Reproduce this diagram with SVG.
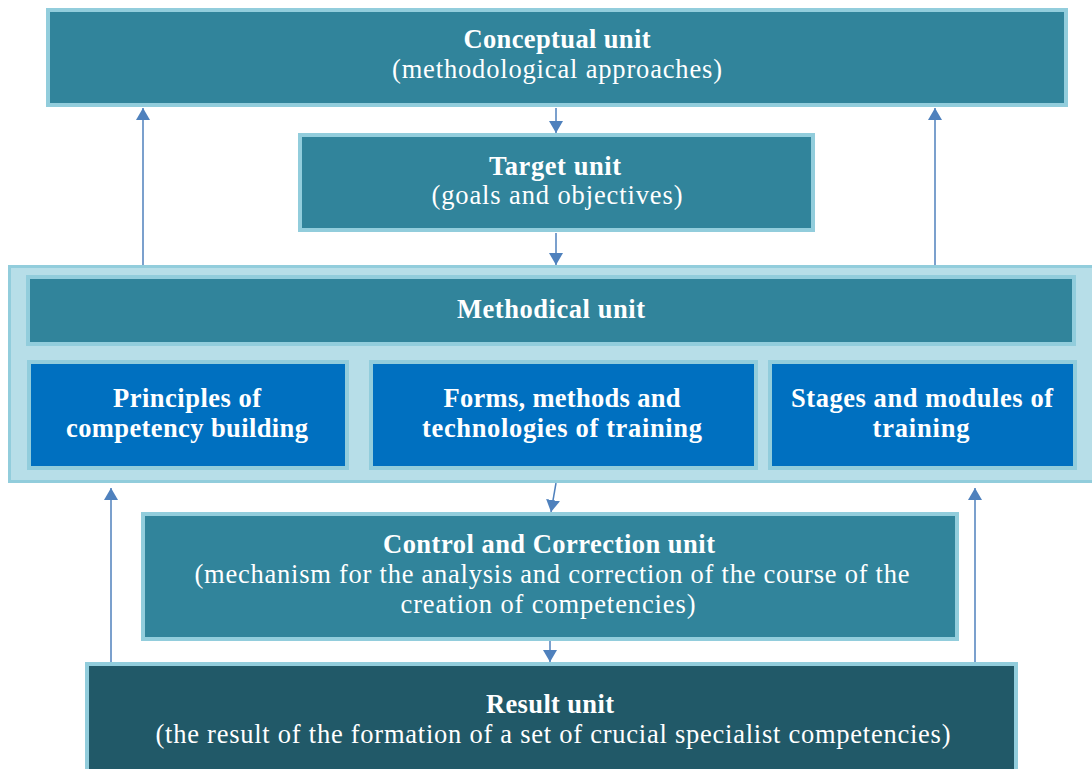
<svg xmlns="http://www.w3.org/2000/svg" width="1092" height="769" viewBox="0 0 1092 769">
<style>
.teal{fill:#31849b;stroke:#92cddc;stroke-width:4}
.blue{fill:#0070c0;stroke:#92cddc;stroke-width:4}
.dark{fill:#215968;stroke:#92cddc;stroke-width:4}
.cont{fill:#b7dee8;stroke:#92cddc;stroke-width:3}
.t{font-family:"Liberation Serif","Times New Roman",serif;font-size:26.5px;fill:#ffffff;text-anchor:middle}
.b{font-weight:bold}
.c{stroke:#4f81bd;stroke-width:1.5;fill:none;marker-end:url(#ah)}
</style>
<defs>
<marker id="ah" viewBox="0 0 12 14" refX="12" refY="7" markerWidth="12" markerHeight="14" markerUnits="userSpaceOnUse" orient="auto">
<path d="M0,0 L12,7 L0,14 Z" fill="#4f81bd"/>
</marker>
</defs>
<rect width="1092" height="769" fill="#ffffff"/>
<g id="connectors">
<line class="c" x1="556" y1="108" x2="556" y2="133"/>
<line class="c" x1="556" y1="233" x2="556" y2="265"/>
<line class="c" x1="143" y1="265" x2="143" y2="108"/>
<line class="c" x1="935" y1="265" x2="935" y2="108"/>
<line class="c" x1="556" y1="483" x2="551" y2="512"/>
<line class="c" x1="550" y1="641" x2="550" y2="662"/>
<line class="c" x1="111" y1="662" x2="111" y2="488"/>
<line class="c" x1="975" y1="662" x2="975" y2="488"/>
</g>
<g id="conceptual">
<rect class="teal" x="48" y="10" width="1018" height="95"/>
<text class="t b" x="557" y="48" textLength="187" lengthAdjust="spacing">Conceptual unit</text>
<text class="t" x="557" y="78" textLength="330" lengthAdjust="spacing">(methodological approaches)</text>
</g>
<g id="target">
<rect class="teal" x="300" y="135" width="513" height="95"/>
<text class="t b" x="555" y="175" textLength="132" lengthAdjust="spacing">Target unit</text>
<text class="t" x="557" y="204" textLength="251" lengthAdjust="spacing">(goals and objectives)</text>
</g>
<g id="methodical">
<rect class="cont" x="9.5" y="266.5" width="1084" height="215"/>
<g id="methodical-header">
<rect class="teal" x="28" y="277" width="1046" height="67"/>
<text class="t b" x="551" y="318" textLength="188" lengthAdjust="spacing">Methodical unit</text>
</g>
<g id="principles">
<rect class="blue" x="29" y="362" width="318" height="106"/>
<text class="t b" x="187" y="407" textLength="148" lengthAdjust="spacing">Principles of</text>
<text class="t b" x="187" y="437" textLength="242" lengthAdjust="spacing">competency building</text>
</g>
<g id="forms">
<rect class="blue" x="371" y="362" width="385" height="106"/>
<text class="t b" x="562" y="407" textLength="237" lengthAdjust="spacing">Forms, methods and</text>
<text class="t b" x="562" y="437" textLength="280" lengthAdjust="spacing">technologies of training</text>
</g>
<g id="stages">
<rect class="blue" x="770" y="362" width="305" height="106"/>
<text class="t b" x="922" y="407" textLength="262" lengthAdjust="spacing">Stages and modules of</text>
<text class="t b" x="921" y="437" textLength="97" lengthAdjust="spacing">training</text>
</g>
</g>
<g id="control">
<rect class="teal" x="143" y="514" width="814" height="125"/>
<text class="t b" x="549" y="553" textLength="332" lengthAdjust="spacing">Control and Correction unit</text>
<text class="t" x="552" y="583" textLength="715" lengthAdjust="spacing">(mechanism for the analysis and correction of the course of the</text>
<text class="t" x="548" y="613" textLength="295" lengthAdjust="spacing">creation of competencies)</text>
</g>
<g id="result">
<rect class="dark" x="87" y="664" width="929" height="110"/>
<text class="t b" x="550" y="713" textLength="128" lengthAdjust="spacing">Result unit</text>
<text class="t" x="553" y="743" textLength="795" lengthAdjust="spacing">(the result of the formation of a set of crucial specialist competencies)</text>
</g>
</svg>
